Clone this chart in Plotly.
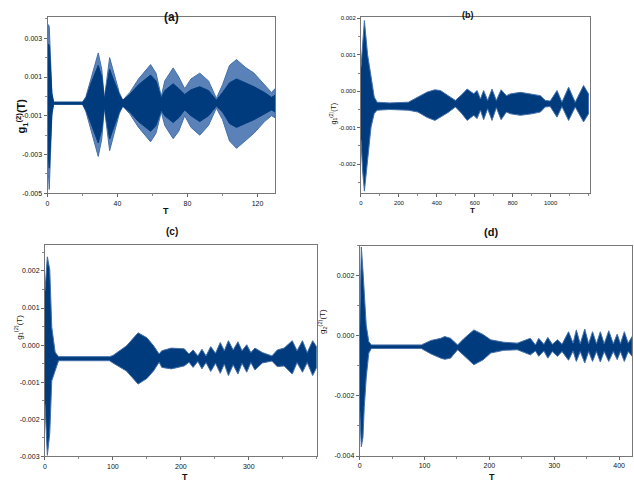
"""Four-panel g(2)(T) correlation envelopes rebuilt with Plotly."""

from typing import List

import plotly.graph_objects as go

NAVY = "#003c7d"
EDGE = "#4470aa"
LIGHT = "#5a82b8"
FONT = "Liberation Sans, Arial, sans-serif"

# ---- panel (a): outer envelope and dense core ----
a_t = [0, 0.5, 1.0, 1.7, 2.5, 3.5, 20, 22, 25, 29, 31, 32.5, 35.5, 38, 41, 43, 47, 52, 58.9,
       62, 65, 67, 71.8, 75, 78.4, 82, 87, 92, 96.5, 100, 104, 108, 113, 118, 124, 128, 130]
a_hi = [0.0005, 0.0037, 0.0036, 0.0020, 0.0002, -0.0003, -0.0003, 0.0000, 0.0010, 0.00224,
        0.0014, -0.0001, 0.0020, 0.0012, 0.0002, -0.0002, 0.0002, 0.0009, 0.00164, 0.0012,
        0.0000, 0.0008, 0.00147, 0.0010, 0.0004, 0.0009, 0.0012, 0.0008, -0.0001, 0.0006,
        0.0016, 0.0019, 0.0015, 0.0012, 0.0006, 0.0002, 0.0004]
a_lo = [-0.0012, -0.0040, -0.0048, -0.0035, -0.0010, -0.0004, -0.0004, -0.0008, -0.0018,
        -0.0031, -0.0022, -0.0006, -0.0028, -0.0020, -0.0009, -0.0005, -0.0009, -0.0016,
        -0.00234, -0.0019, -0.0008, -0.0015, -0.00218, -0.0018, -0.0010, -0.0016, -0.0020,
        -0.0015, -0.0006, -0.0012, -0.0023, -0.00268, -0.0023, -0.0019, -0.0013, -0.0010,
        -0.0011]
a_core_hi = [0.0003, 0.0027, 0.0026, 0.0014, 0.0001, -0.0003, -0.0003, -0.0001, 0.0007,
             0.0016, 0.0010, -0.0002, 0.0014, 0.0008, 0.0001, -0.0002, 0.0001, 0.0006, 0.0011,
             0.0008, -0.0001, 0.0003, 0.00065, 0.0004, 0.0001, 0.00034, 0.0005, 0.0003, -0.0002,
             0.0002, 0.0007, 0.0009, 0.0007, 0.0005, 0.0002, -0.00005, 0.00006]
a_core_lo = [-0.0010, -0.0031, -0.0037, -0.0027, -0.0008, -0.0004, -0.0004, -0.0007, -0.0014,
             -0.0024, -0.0017, -0.0005, -0.0022, -0.0016, -0.0008, -0.0005, -0.0008, -0.0013,
             -0.0018, -0.0015, -0.0007, -0.0010, -0.00135, -0.0011, -0.0007, -0.0010, -0.0013,
             -0.0010, -0.0005, -0.0008, -0.0014, -0.0016, -0.0014, -0.0012, -0.0009, -0.0007,
             -0.0008]

# ---- panel (b) ----
b_t = [0, 9, 18, 35, 53, 70, 85, 150, 250, 300, 350, 390, 419, 460, 498, 530, 560, 595, 612,
       630, 647, 668, 691, 714, 739, 767, 790, 841, 900, 946, 972, 998, 1034, 1060, 1095, 1130,
       1174, 1200]
b_hi = [0.00065, 0.00147, 0.00194, 0.0010, 0.00034, -0.00016, -0.00030, -0.00032, -0.00030,
        -0.00016, -0.00002, 0.00004, 0.00002, -0.00012, -0.00025, -0.00010, 0.00006, -0.00007,
        0.00002, -0.00021, 0.00002, -0.00025, 0.00006, -0.00025, 0.00004, -0.00012, -0.00007,
        -0.00003, -0.00007, -0.00012, -0.00025, -0.00027, 0.00002, -0.00030, 0.00011, -0.00030,
        0.00016, -0.00007]
b_lo = [-0.00134, -0.0022, -0.00274, -0.0018, -0.00098, -0.00061, -0.00052, -0.00050, -0.00052,
        -0.00057, -0.00072, -0.00080, -0.00071, -0.00058, -0.00043, -0.00060, -0.00080, -0.00066,
        -0.00075, -0.00052, -0.00078, -0.00048, -0.00080, -0.00045, -0.00078, -0.00057, -0.00062,
        -0.00066, -0.00062, -0.00057, -0.00043, -0.00042, -0.00071, -0.00042, -0.00080, -0.00043,
        -0.00084, -0.00062]

# ---- panel (c) ----
c_t = [0, 3.5, 7, 10, 15, 20, 95, 100, 120, 137, 150, 160, 168, 172, 186, 205, 212, 218, 225,
       231, 237, 244, 251, 258, 264, 270, 277, 284, 290, 297, 303, 309, 320, 334, 342, 352, 364,
       371, 379, 386, 394, 400]
c_hi = [0.00146, 0.00238, 0.00204, 0.00048, -0.00019, -0.00031, -0.00031, -0.00028, -0.00002,
        0.00033, 0.00020, -0.00002, -0.00024, -0.00015, -0.00008, -0.00010, -0.00024, -0.00013,
        -0.00029, -0.00011, -0.00029, -0.00004, -0.00022, 0.00007, -0.00015, 0.00012, -0.00013,
        0.00009, -0.00015, 0.00001, -0.00020, -0.00008, -0.00020, -0.00029, -0.00013, -0.00008,
        0.00012, -0.00015, 0.00012, -0.00020, 0.00012, -0.00005]
c_lo = [-0.00159, -0.00297, -0.00239, -0.00096, -0.00069, -0.00042, -0.00042, -0.00048, -0.00070,
        -0.00105, -0.00090, -0.00069, -0.00046, -0.00060, -0.00064, -0.00056, -0.00046, -0.00060,
        -0.00044, -0.00064, -0.00047, -0.00071, -0.00049, -0.00076, -0.00051, -0.00082, -0.00053,
        -0.00078, -0.00049, -0.00073, -0.00047, -0.00067, -0.00048, -0.00043, -0.00058, -0.00056,
        -0.00078, -0.00047, -0.00073, -0.00047, -0.00082, -0.00060]

# ---- panel (d) ----
d_t = [0, 2.5, 5, 7, 10, 14, 18, 95, 110, 125, 131, 140, 151, 160, 176, 190, 202, 222, 243, 263,
       271, 276, 284, 290, 297, 305, 312, 322, 329, 334, 340, 347, 353, 359, 365, 371, 377, 384,
       391, 397, 402, 408, 414, 420]
d_hi = [0.00036, 0.00296, 0.00218, 0.00158, 0.00036, -0.00019, -0.00030, -0.00030, -0.00015,
        -0.00008, -0.00002, -0.00008, -0.00030, -0.00010, 0.00020, 0.00005, -0.00013, -0.00021,
        -0.00024, -0.00008, -0.00030, -0.00008, -0.00028, -0.00005, -0.00028, -0.00013, -0.00028,
        0.00014, -0.00024, 0.00020, -0.00026, 0.00023, -0.00026, 0.00014, -0.00026, 0.00014,
        -0.00026, 0.00017, -0.00026, 0.00006, -0.00026, 0.00014, -0.00024, -0.00002]
d_lo = [-0.00250, -0.00369, -0.00338, -0.00239, -0.00140, -0.00057, -0.00042, -0.00042, -0.00060,
        -0.00074, -0.00078, -0.00074, -0.00046, -0.00062, -0.00096, -0.00080, -0.00057, -0.00048,
        -0.00046, -0.00063, -0.00050, -0.00068, -0.00050, -0.00074, -0.00052, -0.00068, -0.00052,
        -0.00081, -0.00050, -0.00085, -0.00052, -0.00090, -0.00052, -0.00085, -0.00052, -0.00087,
        -0.00052, -0.00085, -0.00052, -0.00079, -0.00052, -0.00085, -0.00052, -0.00068]

# ---- axis ranges and tick labels ----
a_xrange = [0, 130]
a_yrange = [-0.005, 0.0041]
a_xticks = [0, 40, 80, 120]
a_yticks = [0.003, 0.001, -0.001, -0.003, -0.005]
a_yticktext = ["0.003", "0.001", "-0.001", "-0.003", "-0.005"]

b_xrange = [0, 1210]
b_yrange = [-0.0028, 0.00204]
b_xticks = [0, 200, 400, 600, 800, 1000]
b_yticks = [0.002, 0.001, 0.0, -0.001, -0.002]
b_yticktext = ["0.002", "0.001", "0.000", "-0.001", "-0.002"]

c_xrange = [0, 400]
c_yrange = [-0.003, 0.0027]
c_xticks = [0, 100, 200, 300]
c_yticks = [0.002, 0.001, 0.0, -0.001, -0.002, -0.003]
c_yticktext = ["0.002", "0.001", "0.000", "-0.001", "-0.002", "-0.003"]

d_xrange = [0, 420]
d_yrange = [-0.004, 0.003]
d_xticks = [0, 100, 200, 300, 400]
d_yticks = [0.002, 0.0, -0.002, -0.004]
d_yticktext = ["0.002", "0.000", "-0.002", "-0.004"]


def _band(t: List[float], hi: List[float], lo: List[float], color: str, edge: str,
          xa: str, ya: str) -> go.Scatter:
    """Closed polygon between the upper and lower envelope."""
    return go.Scatter(
        x=t + t[::-1],
        y=hi + lo[::-1],
        fill="toself",
        fillcolor=color,
        mode="lines",
        line={"color": edge, "width": 1},
        xaxis=xa,
        yaxis=ya,
        hoverinfo="skip",
        showlegend=False,
    )


def _axis(domain, rng, ticks, text, minor_dtick, size=7) -> dict:
    return {
        "domain": domain,
        "range": rng,
        "tickvals": ticks,
        "ticktext": text,
        "ticks": "outside",
        "ticklen": 3,
        "tickwidth": 1,
        "tickcolor": "#666",
        "minor": {"dtick": minor_dtick, "ticks": "outside", "ticklen": 2, "tickcolor": "#888",
                  "showgrid": False},
        "showline": True,
        "mirror": True,
        "linecolor": "#777",
        "linewidth": 1,
        "showgrid": False,
        "zeroline": False,
        "tickfont": {"size": size, "color": "#111", "family": FONT},
    }


fig = go.Figure()
fig.add_trace(_band(a_t, a_hi, a_lo, LIGHT, EDGE, "x", "y"))
fig.add_trace(_band(a_t, a_core_hi, a_core_lo, NAVY, NAVY, "x", "y"))
fig.add_trace(_band(b_t, b_hi, b_lo, NAVY, EDGE, "x2", "y2"))
fig.add_trace(_band(c_t, c_hi, c_lo, NAVY, EDGE, "x3", "y3"))
fig.add_trace(_band(d_t, d_hi, d_lo, NAVY, EDGE, "x4", "y4"))

str_a = [str(v) for v in a_xticks]
str_b = [str(v) for v in b_xticks]
str_c = [str(v) for v in c_xticks]
str_d = [str(v) for v in d_xticks]

fig.update_layout(
    width=634,
    height=486,
    autosize=False,
    margin={"l": 0, "r": 0, "t": 0, "b": 0},
    paper_bgcolor="white",
    plot_bgcolor="white",
    font={"family": FONT, "color": "#111"},
    xaxis={**_axis([0.072, 0.432], a_xrange, a_xticks, str_a, 20), "anchor": "y"},
    yaxis={**_axis([0.601, 0.967], a_yrange, a_yticks, a_yticktext, 0.001), "anchor": "x"},
    xaxis2={**_axis([0.568, 0.931], b_xrange, b_xticks, str_b, 100, 6), "anchor": "y2"},
    yaxis2={**_axis([0.601, 0.967], b_yrange, b_yticks, b_yticktext, 0.0005, 6), "anchor": "x2"},
    xaxis3={**_axis([0.068, 0.498], c_xrange, c_xticks, str_c, 50), "anchor": "y3"},
    yaxis3={**_axis([0.055, 0.494], c_yrange, c_yticks, c_yticktext, 0.0005), "anchor": "x3"},
    xaxis4={**_axis([0.566, 0.997], d_xrange, d_xticks, str_d, 50), "anchor": "y4"},
    yaxis4={**_axis([0.056, 0.492], d_yrange, d_yticks, d_yticktext, 0.001), "anchor": "x4"},
)

# panel letters
for text, x, y, size in [("(a)", 0.253, 0.986, 12), ("(b)", 0.750, 0.986, 9),
                         ("(c)", 0.256, 0.521, 10), ("(d)", 0.788, 0.521, 11)]:
    fig.add_annotation(text=f"<b>{text}</b>", x=x, y=y, xref="paper", yref="paper",
                       showarrow=False, font={"size": size, "family": FONT})

# x titles
for x, y, size, anchor in [(0.253, 0.564, 9, "middle"), (0.750, 0.566, 8, "middle"),
                           (0.283, 0.0, 9, "bottom"), (0.781, 0.0, 9, "bottom")]:
    fig.add_annotation(text="<b>T</b>", x=x, y=y, xref="paper", yref="paper", yanchor=anchor,
                       showarrow=False, borderpad=0, font={"size": size, "family": FONT})

# y titles
for lab, x, y, size in [("g<sub>1</sub><sup>(2)</sup>(T)", 0.016, 0.801, 11),
                        ("g<sub>1</sub><sup>(2)</sup>(T)", 0.524, 0.794, 7),
                        ("g<sub>1</sub><sup>(2)</sup>(T)", 0.015, 0.294, 8),
                        ("g<sub>2</sub><sup>(2)</sup>(T)", 0.508, 0.304, 8)]:
    fig.add_annotation(text=f"<b>{lab}</b>" if size > 10 else lab, x=x, y=y, xref="paper",
                       yref="paper", textangle=-90, showarrow=False,
                       font={"size": size, "family": FONT})

# the page body carries a default margin; drop it so the figure fills the window exactly
fig.write_html("out.html", config={"displayModeBar": False},
               post_script="document.body.style.margin='0';")
